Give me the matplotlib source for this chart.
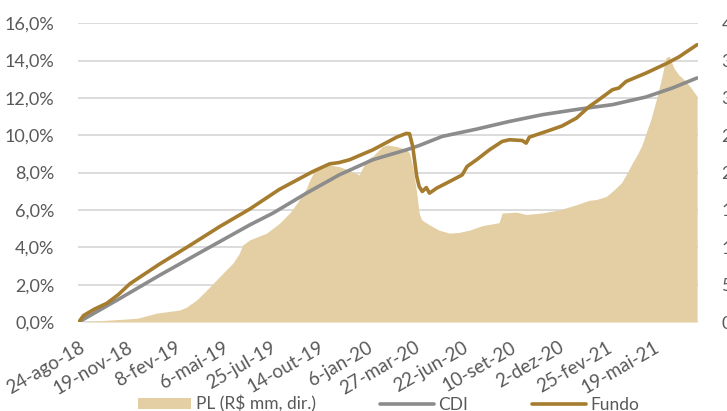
import numpy as np
import matplotlib.pyplot as plt
from matplotlib.ticker import FuncFormatter, FixedLocator

# eixo x em dias uteis desde 24-ago-18 (rotulo a cada 60 pregoes)
tick_idx = [0, 60, 120, 180, 240, 300, 360, 420, 480, 540, 600, 660, 720]
tick_labels = ['24-ago-18', '19-nov-18', '8-fev-19', '6-mai-19', '25-jul-19',
               '14-out-19', '6-jan-20', '27-mar-20', '22-jun-20', '10-set-20',
               '2-dez-20', '25-fev-21', '19-mai-21']
last_idx = 774

# rentabilidade acumulada do CDI (%)
cdi_x = [0, 51, 101, 151, 214, 243, 285, 326, 368, 410, 426, 455, 498, 539,
         580, 626, 668, 710, 743, 774]
cdi_y = [0.0, 1.25, 2.5, 3.7, 5.2, 5.83, 6.9, 7.88, 8.69, 9.22, 9.45, 9.94,
         10.33, 10.74, 11.1, 11.4, 11.64, 12.05, 12.53, 13.07]

# rentabilidade acumulada do fundo (%)
fundo_x = [0, 6, 20, 35, 49, 64, 101, 139, 176, 214, 251, 293, 314, 326, 339,
           368, 398, 410, 414, 418, 423, 426, 430, 435, 439, 448, 464, 480,
           486, 498, 514, 530, 539, 555, 560, 564, 589, 605, 623, 639, 648,
           668, 676, 685, 710, 735, 751, 774]
fundo_y = [0.0, 0.35, 0.7, 1.0, 1.45, 2.05, 3.1, 4.1, 5.1, 6.05, 7.1, 8.06,
           8.47, 8.54, 8.69, 9.22, 9.9, 10.1, 10.08, 9.4, 7.8, 7.26, 6.99,
           7.2, 6.9, 7.17, 7.52, 7.88, 8.33, 8.69, 9.22, 9.67, 9.76, 9.72,
           9.58, 9.9, 10.26, 10.5, 10.92, 11.54, 11.81, 12.44, 12.53, 12.88,
           13.33, 13.83, 14.19, 14.85]

# patrimonio liquido (R$ mm)
pl_x = [0, 30, 73, 98, 126, 135, 148, 164, 180, 193, 201, 205, 214, 235, 251,
        264, 273, 285, 289, 295, 310, 326, 339, 351, 360, 368, 380, 386, 398,
        410, 414, 418, 423, 426, 429, 439, 451, 464, 476, 489, 505, 526, 530,
        548, 560, 580, 601, 623, 639, 648, 660, 668, 679, 685, 693, 699, 705,
        710, 716, 724, 730, 735, 739, 745, 751, 760, 768, 774]
pl_y = [0, 2, 5, 12, 16, 20, 30, 47, 65, 79, 92, 103, 110, 119, 132, 146, 159,
        179, 190, 202, 211, 208, 203, 197, 217, 222, 235, 237, 235, 231, 226,
        208, 173, 146, 137, 130, 123, 119, 120, 123, 129, 133, 146, 147, 144,
        146, 150, 157, 163, 164, 168, 175, 186, 197, 213, 224, 237, 253, 271,
        302, 329, 354, 356, 340, 331, 322, 311, 302]

ouro = '#A67C2E'
cinza = '#8C8C8C'
areia = '#E4CFA5'
texto = '#595959'

plt.rcParams['font.family'] = ['Lato', 'DejaVu Sans']

fig = plt.figure(figsize=(7.27, 4.11), dpi=100)
ax = fig.add_axes([0.1073, 0.2165, 0.8527, 0.727])
ax2 = ax.twinx()
ax.set_zorder(2)
ax2.set_zorder(1)
ax.patch.set_visible(False)

# area do PL no eixo da direita, com a grade por baixo
ax2.fill_between(pl_x, pl_y, 0, color=areia, lw=0, zorder=2,
                 label='PL (R$ mm, dir.)')
ax2.set_ylim(0, 400)
ax2.yaxis.set_major_locator(FixedLocator(range(0, 401, 50)))
ax2.grid(axis='y', color='#D9D9D9', lw=1.3, zorder=0)
ax2.set_axisbelow(True)

ax.plot(np.array(cdi_x), np.array(cdi_y) / 100, color=cinza, lw=2.6,
        label='CDI', solid_capstyle='round')
ax.plot(np.array(fundo_x), np.array(fundo_y) / 100, color=ouro, lw=2.6,
        label='Fundo', solid_capstyle='round')

ax.set_xlim(-1, last_idx + 1)
ax.set_ylim(0, 0.16)
ax.yaxis.set_major_locator(FixedLocator(np.arange(0, 0.161, 0.02)))
ax.yaxis.set_major_formatter(
    FuncFormatter(lambda v, p: f'{v * 100:.1f}%'.replace('.', ',')))
ax.set_xticks(tick_idx)
ax.set_xticklabels(tick_labels, rotation=30, ha='right', rotation_mode='anchor')

for a in (ax, ax2):
    for s in a.spines.values():
        s.set_visible(False)
ax.tick_params(axis='y', length=0, pad=17, labelsize=13, labelcolor=texto)
ax.tick_params(axis='x', length=0, pad=12, labelsize=13.5, labelcolor=texto)
ax2.tick_params(axis='y', length=0, pad=17, labelsize=13, labelcolor=texto)

h1, l1 = ax2.get_legend_handles_labels()
h2, l2 = ax.get_legend_handles_labels()
fig.legend(h1 + h2, l1 + l2, loc='center', bbox_to_anchor=(0.5344, 0.017),
           ncol=3, frameon=False, fontsize=12.5, handlelength=3.1,
           handleheight=0.55, columnspacing=3.7, handletextpad=0.25,
           labelcolor=texto)

fig.savefig('out.png', dpi=100)
